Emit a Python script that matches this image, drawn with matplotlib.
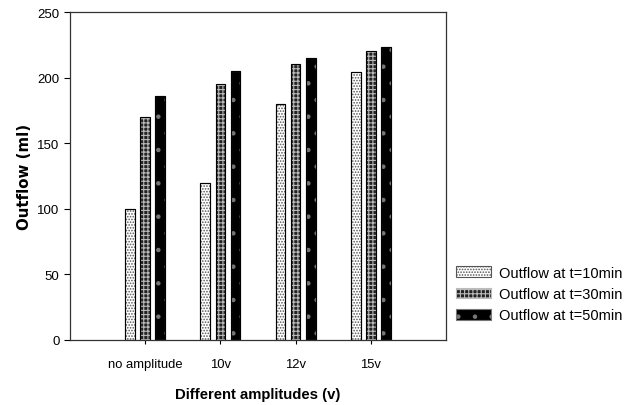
import numpy as np
import matplotlib
matplotlib.use("Agg")
import matplotlib.pyplot as plt

plt.rcParams['font.family'] = ['Liberation Sans', 'DejaVu Sans']
plt.rcParams['hatch.linewidth'] = 0.8

categories = ["no amplitude", "10v", "12v", "15v"]
outflow_10 = [100, 120, 180, 204]
outflow_30 = [170, 195, 210, 220]
outflow_50 = [186, 205, 215, 223]
series_names = ["Outflow at t=10min", "Outflow at t=30min", "Outflow at t=50min"]

fig = plt.figure(figsize=(6.36, 4.06), dpi=100)
ax = fig.add_axes([70/636, 1-341/406, 376/636, 328/406])

x = np.arange(1, len(categories)+1)
w = 0.13
styles = [
    dict(facecolor="white", edgecolor="#555555", hatch="......"),
    dict(facecolor="#222222", edgecolor="#bbbbbb", hatch="++++"),
    dict(facecolor="black", edgecolor="#777777", hatch="."),
]
for i, (vals, name) in enumerate(zip([outflow_10, outflow_30, outflow_50], series_names)):
    bars = ax.bar(x + (i-1)*0.2, vals, width=w, label=name, linewidth=0.8, **styles[i])
    for b in bars:
        # dark outline on top of hatch colour
        ax.bar(b.get_x() + w/2, b.get_height(), width=w, facecolor="none",
               edgecolor="black", linewidth=0.8)

ax.set_xlim(0, 5)
ax.set_ylim(0, 250)
ax.set_xticks(x)
ax.set_xticklabels(categories, fontsize=9.4)
ax.set_yticks([0, 50, 100, 150, 200, 250])
ax.tick_params(axis='y', labelsize=9.5, direction='out', length=4, width=0.8)
ax.tick_params(axis='x', direction='out', length=3, width=0.8, pad=10)
for s in ax.spines.values():
    s.set_linewidth(0.9)
    s.set_color("#333333")

ax.set_ylabel("Outflow (ml)", fontsize=10.8, fontweight='bold', labelpad=4,
              family='DejaVu Sans')
ax.set_xlabel("Different amplitudes (v)", fontsize=10.7, fontweight='bold', labelpad=12)

ax.legend(loc='upper left', bbox_to_anchor=(450/636, 1-261/406), bbox_transform=fig.transFigure,
          frameon=False, fontsize=10.5, handlelength=2.4, handleheight=0.75,
          labelspacing=0.5, handletextpad=0.55, borderaxespad=0)

fig.savefig("out.png", dpi=100)
